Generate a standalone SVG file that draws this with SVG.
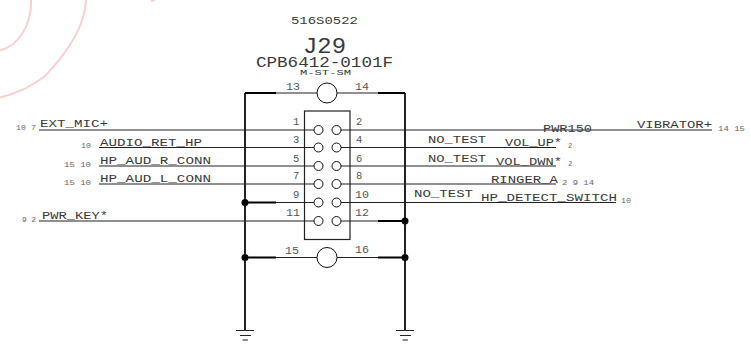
<svg xmlns="http://www.w3.org/2000/svg" width="751" height="350" viewBox="0 0 751 350">
<style>
text{font-family:"Liberation Mono","Courier New",monospace;fill:#3a3a3a}
.n{font-size:11.5px}
.p{font-size:10.500px;fill:#555}
.s{font-size:7px;fill:#666}
.w{stroke:#222;stroke-width:1.2;fill:none}
.t{stroke:#000;stroke-width:2;fill:none}
.r{stroke:#222;stroke-width:2;fill:none}
.c{stroke:#111;stroke-width:1;fill:#fff}
.d{fill:#000}
.k{stroke:#f7d0cf;stroke-width:2;fill:none}
</style>
<g id="watermark">
<path class="k" d="M31,0C32,25 18,46 0,50.500"/>
<path class="k" d="M86,0C85,25 70,50 45,76C30,88 14,94 0,97.500"/>
<path class="k" d="M151,1L155,0"/>
</g>
<g id="connectors">
<path class="r" d="M245,93V330M405,93V330"/>
<path class="t" d="M245,93H276M378,93H405M245,202.500H276M378,221H405M245,257.500H276M378,257.500H405"/>
<path class="w" d="M276,93H317M337,93H378M276,202.500H314M276,257.500H317M337,257.500H378M341,221H378"/>
<path class="w" d="M39,130H314M341,130H712M99,147.500H314M341,147.500H556M99,166H314M341,166H556M99,184H314M341,184H556M341,202.500H616M39,221H314"/>
<path class="w" d="M236,330.500H254M240,335.500H251M242.500,340H248M396,330.500H414M400,335.500H411M402.500,340H408"/>
<circle class="d" cx="245" cy="202.500" r="3.500"/>
<circle class="d" cx="405" cy="221" r="3.500"/>
<circle class="d" cx="245" cy="257.500" r="3.500"/>
<circle class="d" cx="405" cy="257.500" r="3.500"/>
</g>
<g id="J29">
<rect x="304.500" y="111" width="45.500" height="128.500" fill="none" stroke="#222" stroke-width="1.200"/>
<circle class="c" cx="327" cy="93" r="10"/>
<circle class="c" cx="327" cy="257.500" r="10"/>
<circle class="c" cx="318.500" cy="130" r="4.500"/><circle class="c" cx="336.500" cy="130" r="4.500"/>
<circle class="c" cx="318.500" cy="147.500" r="4.500"/><circle class="c" cx="336.500" cy="147.500" r="4.500"/>
<circle class="c" cx="318.500" cy="166" r="4.500"/><circle class="c" cx="336.500" cy="166" r="4.500"/>
<circle class="c" cx="318.500" cy="184" r="4.500"/><circle class="c" cx="336.500" cy="184" r="4.500"/>
<circle class="c" cx="318.500" cy="202.500" r="4.500"/><circle class="c" cx="336.500" cy="202.500" r="4.500"/>
<circle class="c" cx="318.500" cy="221" r="4.500"/><circle class="c" cx="336.500" cy="221" r="4.500"/>
<text x="291" y="24" class="n" textLength="67" lengthAdjust="spacingAndGlyphs">516S0522</text>
<text x="303" y="53" font-size="22" textLength="43" lengthAdjust="spacingAndGlyphs">J29</text>
<text x="256" y="66.500" font-size="14.500" textLength="137" lengthAdjust="spacingAndGlyphs">CPB6412-0101F</text>
<text x="300" y="75" font-size="8" textLength="51" lengthAdjust="spacingAndGlyphs">M-ST-SM</text>
<text class="p" x="286" y="90" textLength="14" lengthAdjust="spacingAndGlyphs">13</text>
<text class="p" x="355" y="90" textLength="14" lengthAdjust="spacingAndGlyphs">14</text>
<text class="p" x="293" y="125">1</text><text class="p" x="356" y="125">2</text>
<text class="p" x="293" y="143">3</text><text class="p" x="356" y="143">4</text>
<text class="p" x="293" y="161.500">5</text><text class="p" x="356" y="161.500">6</text>
<text class="p" x="293" y="179">7</text><text class="p" x="356" y="179">8</text>
<text class="p" x="293" y="197.500">9</text>
<text class="p" x="355" y="197.500" textLength="14" lengthAdjust="spacingAndGlyphs">10</text>
<text class="p" x="286" y="216" textLength="14" lengthAdjust="spacingAndGlyphs">11</text>
<text class="p" x="355" y="216" textLength="14" lengthAdjust="spacingAndGlyphs">12</text>
<text class="p" x="285" y="254" textLength="14" lengthAdjust="spacingAndGlyphs">15</text>
<text class="p" x="355" y="253" textLength="14" lengthAdjust="spacingAndGlyphs">16</text>
</g>
<g id="left-labels">
<text class="n" x="40" y="127" textLength="68" lengthAdjust="spacingAndGlyphs">EXT_MIC+</text>
<text class="n" x="100" y="146" textLength="102" lengthAdjust="spacingAndGlyphs">AUDIO_RET_HP</text>
<text class="n" x="100" y="163.500" textLength="111" lengthAdjust="spacingAndGlyphs">HP_AUD_R_CONN</text>
<text class="n" x="100" y="181.500" textLength="111" lengthAdjust="spacingAndGlyphs">HP_AUD_L_CONN</text>
<text class="n" x="42" y="218.500" textLength="66" lengthAdjust="spacingAndGlyphs">PWR_KEY*</text>
<text class="s" x="16" y="130" textLength="20" lengthAdjust="spacingAndGlyphs">10 7</text>
<text class="s" x="81" y="148" textLength="10" lengthAdjust="spacingAndGlyphs">10</text>
<text class="s" x="64" y="166.500" textLength="27" lengthAdjust="spacingAndGlyphs">15 10</text>
<text class="s" x="64" y="184.500" textLength="27" lengthAdjust="spacingAndGlyphs">15 10</text>
<text class="s" x="22" y="221.500" textLength="14" lengthAdjust="spacingAndGlyphs">9 2</text>
</g>
<g id="right-labels">
<text class="n" x="543" y="131.500" textLength="49" lengthAdjust="spacingAndGlyphs">PWR150</text>
<text class="n" x="637" y="127.500" textLength="75" lengthAdjust="spacingAndGlyphs">VIBRATOR+</text>
<text class="n" x="428" y="142.500" textLength="58" lengthAdjust="spacingAndGlyphs">NO_TEST</text>
<text class="n" x="428" y="161.500" textLength="58" lengthAdjust="spacingAndGlyphs">NO_TEST</text>
<text class="n" x="414" y="197" textLength="59" lengthAdjust="spacingAndGlyphs">NO_TEST</text>
<text class="n" x="505" y="146" textLength="57" lengthAdjust="spacingAndGlyphs">VOL_UP*</text>
<text class="n" x="496" y="164.500" textLength="66" lengthAdjust="spacingAndGlyphs">VOL_DWN*</text>
<text class="n" x="491" y="182.500" textLength="67" lengthAdjust="spacingAndGlyphs">RINGER_A</text>
<text class="n" x="481" y="201" textLength="136" lengthAdjust="spacingAndGlyphs">HP_DETECT_SWITCH</text>
<text class="s" x="718" y="130.500" textLength="27" lengthAdjust="spacingAndGlyphs">14 15</text>
<text class="s" x="568" y="147.500">2</text>
<text class="s" x="568" y="165.500">2</text>
<text class="s" x="562" y="185" textLength="32" lengthAdjust="spacingAndGlyphs">2 9 14</text>
<text class="s" x="621" y="202.500" textLength="10" lengthAdjust="spacingAndGlyphs">10</text>
</g>
</svg>
